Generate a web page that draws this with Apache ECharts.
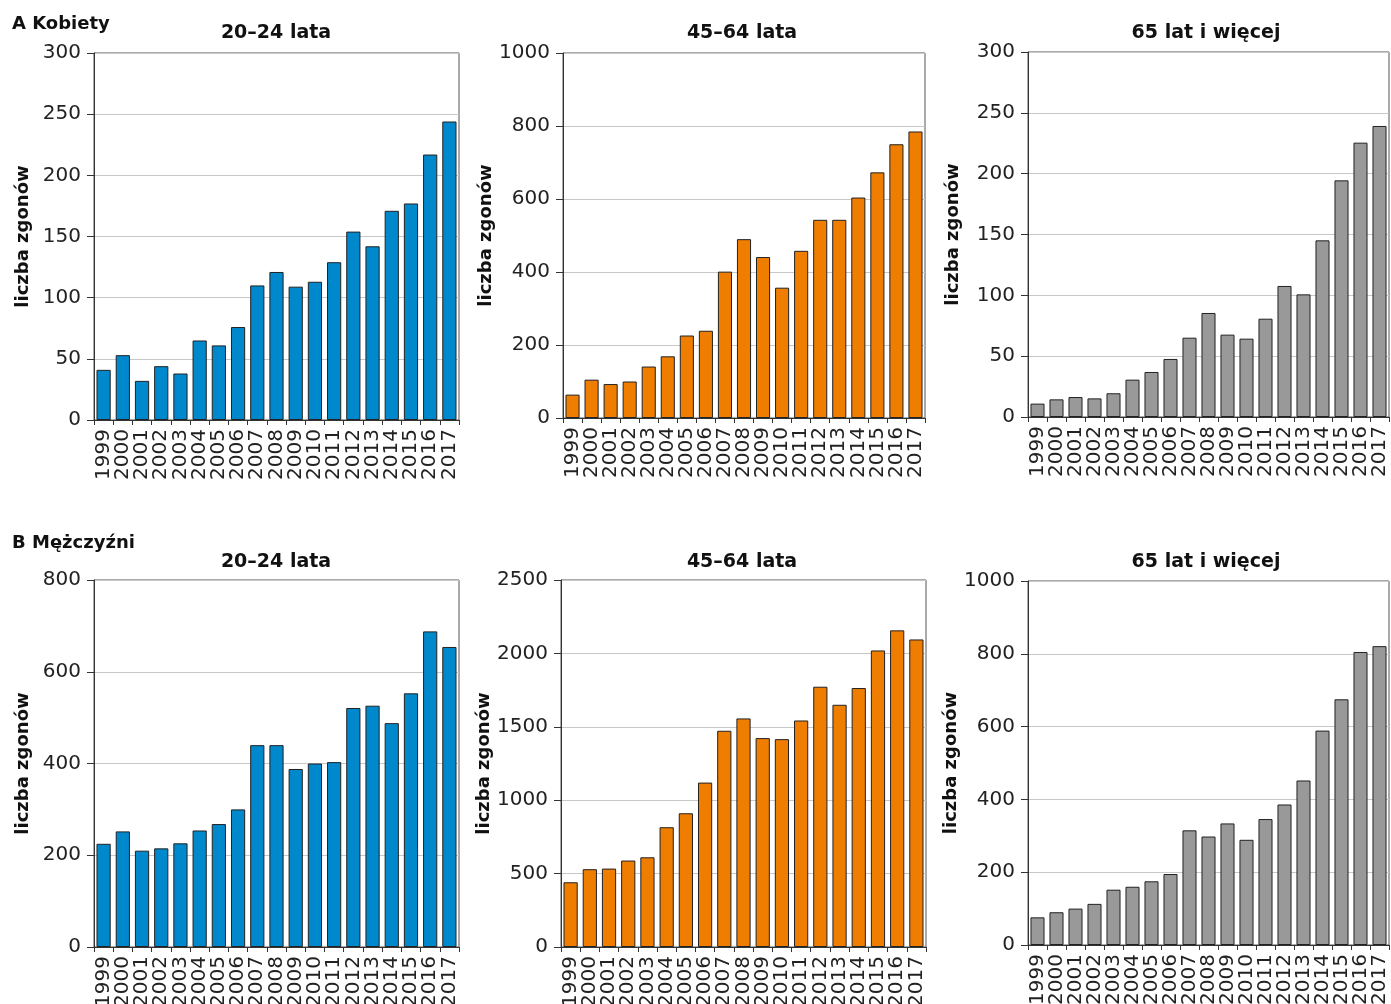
<!DOCTYPE html>
<html><head><meta charset="utf-8">
<script src="https://cdn.jsdelivr.net/npm/echarts@6/dist/echarts.min.js"></script>
<style>html,body{margin:0;padding:0;background:#fff}#c{width:1391px;height:1004px}</style>
</head><body><div id="c"></div>
<script>
const years = ['1999','2000','2001','2002','2003','2004','2005','2006','2007','2008','2009','2010','2011','2012','2013','2014','2015','2016','2017'];
const kobiety2024 = [41,53,32,44,38,65,61,76,110,121,109,113,129,154,142,171,177,217,244];
const kobiety4564 = [64,105,93,100,141,169,226,239,401,490,441,357,458,543,543,604,673,750,785];
const kobiety65 = [11,14.5,16.4,15.3,19.5,30.7,37,47.7,65.2,85.5,67.7,64.4,80.8,107.7,100.8,145.2,194.5,225.5,239.2];
const mezczyzni2024 = [225,252,210,215,226,254,268,300,440,440,388,400,403,521,526,488,553,688,654];
const mezczyzni4564 = [441,530,534,589,611,816,911,1120,1473,1557,1423,1416,1543,1773,1650,1764,2020,2157,2095];
const mezczyzni65 = [76,90,100,113,152,160,175,195,315,298,334,289,346,386,452,589,675,805,821];
const panelTitles = ['20–24 lata','45–64 lata','65 lat i więcej'];
const rowLabels = ['A Kobiety','B Mężczyźni'];
const yName = 'liczba zgonów';

const FONT = '"DejaVu Sans", sans-serif';
const colors = ['#0088cc','#ef7d00','#999999'];
const grids = [
  {left:94, top:53, width:365, height:367},
  {left:563, top:53, width:362, height:365},
  {left:1028, top:52, width:361, height:365},
  {left:94, top:580, width:365, height:367},
  {left:561, top:580, width:365, height:367},
  {left:1028, top:581, width:361, height:364}
];
const yMax = [300,1000,300,800,2500,1000];
const yInt = [50,200,50,200,500,200];
const nameGaps = [62,67,66,62,65,66];
const data = [kobiety2024,kobiety4564,kobiety65,mezczyzni2024,mezczyzni4564,mezczyzni65];

const option = {
  animation:false,
  backgroundColor:'#fff',
  grid: grids.map(g=>Object.assign({show:true,borderColor:'#555',borderWidth:1,backgroundColor:'transparent',containLabel:false,outerBoundsMode:'none'},g)),
  xAxis: grids.map((g,i)=>({
    type:'category', gridIndex:i, data:years, boundaryGap:true,
    axisLine:{lineStyle:{color:'#333',width:1}},
    axisTick:{show:true,length:5,alignWithLabel:false,lineStyle:{color:'#333'}},
    axisLabel:{interval:0,rotate:90,margin:9,fontFamily:FONT,fontSize:20,color:'#222'},
    splitLine:{show:false}
  })),
  yAxis: grids.map((g,i)=>({
    type:'value', gridIndex:i, min:0, max:yMax[i], interval:yInt[i],
    name:yName, nameLocation:'middle', nameRotate:90, nameGap:nameGaps[i],
    nameTextStyle:{fontFamily:FONT,fontWeight:'bold',fontSize:18,color:'#111'},
    axisLine:{show:true,lineStyle:{color:'#333',width:1}},
    axisTick:{show:true,length:7,lineStyle:{color:'#333'}},
    axisLabel:{margin:13,fontFamily:FONT,fontSize:20,color:'#222',formatter:v=>String(v)},
    splitLine:{show:true,lineStyle:{color:'#c8c8c8',width:1}}
  })),
  series: data.map((d,i)=>({
    type:'bar', xAxisIndex:i, yAxisIndex:i, data:d, barWidth:'74%',
    itemStyle:{color:colors[i%3],borderColor:'#222',borderWidth:1}
  })),
  graphic: []
};
const txt = (x,y,text,size,align)=>({type:'text',x:x,y:y,style:{text:text,font:'bold '+size+'px '+FONT,fill:'#111',textAlign:align,align:align,textVerticalAlign:'middle',verticalAlign:'middle'}});
const titleX = [276,742,1206];
for(let r=0;r<2;r++){
  option.graphic.push(txt(12,r?543:24,rowLabels[r],18,'left'));
  for(let c=0;c<3;c++) option.graphic.push(txt(titleX[c],r?562:33,panelTitles[c],19,'center'));
}
const chart = echarts.init(document.getElementById('c'),null,{renderer:'canvas'});
chart.setOption(option);
</script></body></html>
